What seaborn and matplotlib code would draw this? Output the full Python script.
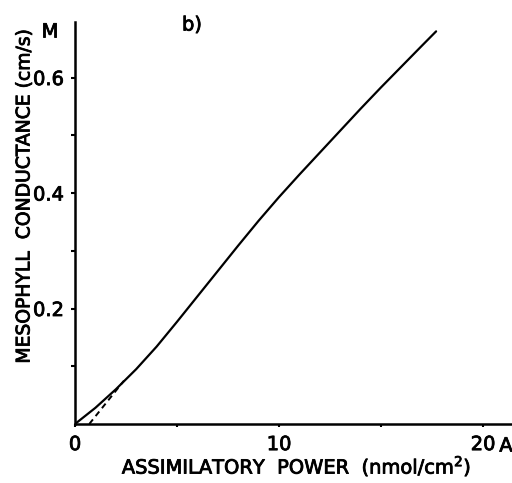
import matplotlib
matplotlib.use("Agg")
import matplotlib.pyplot as plt
import matplotlib.patheffects as pe
import seaborn as sns
import pandas as pd

# Mesophyll conductance vs. assimilatory power
power = [0, 1, 2, 3, 4, 5, 6, 7, 8, 9, 10, 11, 12, 13, 14, 15, 16, 17, 17.7]
conductance = [0, 0.028, 0.060, 0.095, 0.134, 0.177, 0.221, 0.265, 0.309, 0.352,
               0.393, 0.432, 0.470, 0.508, 0.546, 0.583, 0.619, 0.655, 0.680]

# initial-slope extrapolation (dashed)
tangent_x = [0.7, 2.4]
tangent_y = [0.0, 0.075]

x_ticks = [0, 10, 20]
x_tick_labels = ["0", "10", "20"]
y_ticks = [0.2, 0.4, 0.6]
y_tick_labels = ["0.2", "0.4", "0.6"]

sns.set_style("ticks")
plt.rcParams["font.family"] = ["DejaVu Sans"]
plt.rcParams["text.color"] = "black"
plt.rcParams["axes.labelcolor"] = "black"

# slightly heavier strokes for all lettering
HEAVY = [pe.withStroke(linewidth=0.6, foreground="black")]

fig = plt.figure(figsize=(5.12, 4.83), dpi=100)
ax = fig.add_axes([0.1465, 0.1222, 0.8535, 0.832])

curve = pd.DataFrame({"power": power, "conductance": conductance})
tangent = pd.DataFrame({"power": tangent_x, "conductance": tangent_y})

sns.lineplot(data=curve, x="power", y="conductance", ax=ax, color="black",
             linewidth=1.6, sort=False)
sns.lineplot(data=tangent, x="power", y="conductance", ax=ax, color="black",
             linewidth=1.4, linestyle=(0, (3.0, 2.2)), sort=False)

ax.set_xlim(0, 21.42)
ax.set_ylim(0, 0.696)

ax.set_xticks(x_ticks)
ax.set_xticklabels(x_tick_labels)
ax.set_xticks([5, 15], minor=True)
ax.set_yticks(y_ticks)
ax.set_yticklabels(y_tick_labels)
ax.set_yticks([0.1, 0.3, 0.5], minor=True)

for side in ("top", "right"):
    ax.spines[side].set_visible(False)
for side in ("left", "bottom"):
    ax.spines[side].set_linewidth(1.8)
    ax.spines[side].set_color("black")

ax.tick_params(axis="both", which="both", direction="out", width=1.5,
               color="black", labelsize=14, labelcolor="black")
ax.tick_params(axis="y", which="both", length=3, pad=5)
ax.tick_params(axis="x", which="both", length=2, pad=6)

ax.set_xlabel("ASSIMILATORY  POWER  (nmol/cm$^\\mathregular{2}$)", fontsize=14)
ax.set_ylabel("MESOPHYLL  CONDUCTANCE (cm/s)", fontsize=13.5)
ax.xaxis.set_label_coords(0.508, -0.076)
ax.yaxis.set_label_coords(-0.095, 0.567)

texts = [ax.xaxis.label, ax.yaxis.label]
texts += ax.get_xticklabels() + ax.get_yticklabels()
texts.append(fig.text(50 / 512, 1 - 32 / 483, "M", fontsize=14,
                      ha="center", va="center"))
texts.append(fig.text(192 / 512, 1 - 25 / 483, "b)", fontsize=14,
                      ha="center", va="center"))
texts.append(fig.text(506 / 512, 1 - 446 / 483, "A", fontsize=14,
                      ha="center", va="center"))
for t in texts:
    t.set_path_effects(HEAVY)

fig.savefig("out.png", dpi=100)
